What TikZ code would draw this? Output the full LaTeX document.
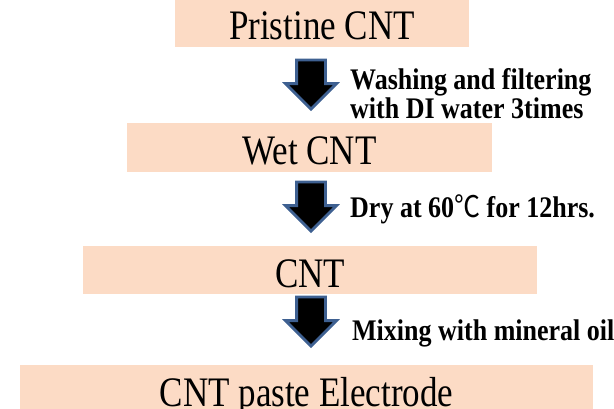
\documentclass[tikz,border=0pt]{standalone}
\usepackage{fontspec}
\setmainfont{Liberation Serif}
\newfontfamily\cjk{Noto Sans CJK SC}
\usetikzlibrary{shapes.arrows}
\definecolor{peach}{RGB}{252,219,197}
\definecolor{arrowblue}{RGB}{62,96,145}
\newcommand\tightlines{\lineskiplimit=-30pt\relax}

\begin{document}
\begin{tikzpicture}[x=1pt, y=-1pt,
  stage/.style={fill=peach, inner sep=0pt, text height=34pt, text depth=0pt, font=\fontsize{35}{35}\selectfont},
  downarrow/.style={single arrow, shape border rotate=270, fill=black, draw=arrowblue, line width=2.8pt, inner sep=13pt, single arrow head extend=11pt, minimum height=49pt, anchor=tip},
  note/.style={inner sep=0pt, font=\fontsize{26}{19}\selectfont\bfseries, yscale=1.15}]
\useasboundingbox (0,0) rectangle (614,408);
% process steps
\node[stage, minimum width=294pt, minimum height=49pt] (pristine) at (322,22.5) {\scalebox{1}[1.2]{Pristine CNT}};
\node[stage, minimum width=365pt, minimum height=49pt] (wet) at (309.5,147.5) {\scalebox{1}[1.2]{Wet CNT}};
\node[stage, minimum width=454pt, minimum height=48pt] (cnt) at (310,270) {\scalebox{1}[1.2]{CNT}};
\node[stage, minimum width=573pt, minimum height=49pt] (paste) at (306.5,389.5) {\scalebox{1}[1.2]{CNT paste Electrode}};
% arrows and treatments
\node[downarrow] (arr1) at (311,111) {};
\node[downarrow] (arr2) at (311,233) {};
\node[downarrow] (arr3) at (311,348) {};
\node[note, anchor=north west, align=left] (wash) at (350,68.4) {\tightlines Washing and filtering\\with DI water 3times};
\node[note, anchor=base west] (dry) at (350,217) {Dry at 60{\cjk\mdseries ℃} for 12hrs.};
\node[note, anchor=base west] (mix) at (352,340) {Mixing with mineral oil};
\end{tikzpicture}
\end{document}
